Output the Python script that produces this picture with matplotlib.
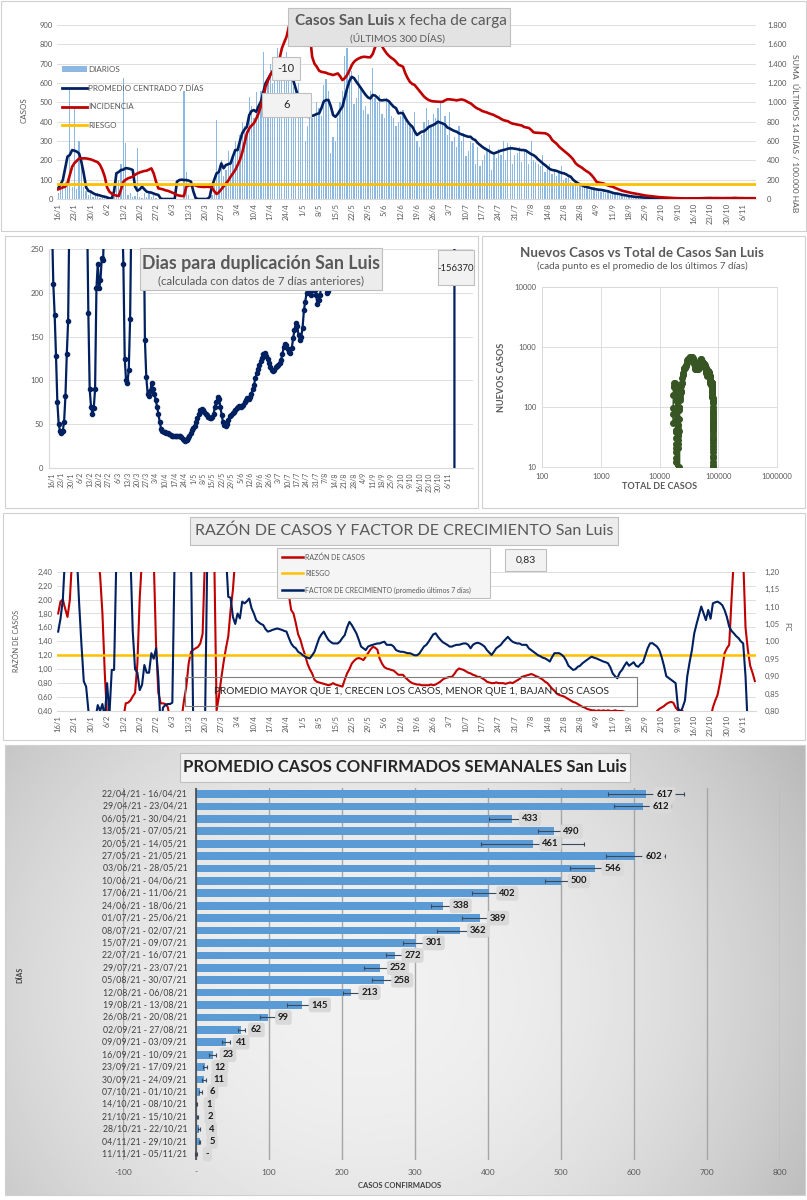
import numpy as np
import matplotlib
matplotlib.use('Agg')
import matplotlib.pyplot as plt
from matplotlib.patches import Rectangle
from matplotlib.lines import Line2D
from matplotlib.ticker import FuncFormatter
from datetime import date, timedelta

plt.rcParams['font.family'] = ['Lato', 'DejaVu Sans']

nan = float('nan')

# ---------------- datos ----------------
FECHA_INICIO = date(2021, 1, 16)

# casos diarios (una fila por semana)
DIARIOS = [
    30, 60, 70, 90, 100, 570, 60,
    470, 50, 300, 180, 60, 40, 20,
    30, 10, 20, 30, 5, 20, 10,
    5, 0, 0, 10, 120, 100, 180,
    625, 290, 20, 30, 10, 15, 265,
    10, 5, 30, 10, 40, 10, 20,
    5, 0, 0, 0, 0, 0, 0,
    0, 0, 0, 0, 0, 560, 140,
    20, 0, 0, 0, 0, 0, 0,
    0, 0, 0, 20, 80, 410, 150,
    200, 120, 150, 250, 180, 230, 300,
    270, 330, 400, 380, 350, 525, 480,
    420, 555, 470, 560, 760, 520, 620,
    700, 600, 650, 780, 640, 720, 690,
    760, 680, 620, 580, 560, 600, 430,
    420, 300, 380, 520, 420, 440, 500,
    470, 430, 590, 620, 560, 240, 320,
    300, 420, 500, 560, 740, 780, 680,
    660, 490, 520, 640, 580, 460, 480,
    440, 560, 680, 520, 500, 540, 440,
    420, 520, 500, 430, 420, 380, 400,
    430, 460, 420, 390, 380, 350, 450,
    300, 270, 330, 400, 470, 410, 380,
    440, 420, 470, 500, 400, 430, 330,
    450, 300, 320, 270, 380, 300, 340,
    220, 250, 300, 290, 180, 270, 170,
    200, 230, 260, 280, 150, 240, 210,
    260, 230, 300, 200, 290, 280, 180,
    230, 240, 270, 190, 250, 260, 180,
    300, 200, 190, 180, 170, 230, 140,
    160, 180, 130, 150, 120, 140, 170,
    100, 110, 120, 90, 80, 70, 65,
    80, 60, 70, 55, 45, 50, 60,
    40, 45, 35, 50, 30, 40, 25,
    30, 25, 20, 18, 22, 15, 12,
    14, 10, 12, 8, 9, 6, 7,
    5, 6, 4, 5, 3, 4, 3,
    2, 3, 2, 1, 2, 1, 1,
    0, 1, 1, 2, 1, 2, 3,
    2, 3, 4, 5, 6, 4, 5,
    6, 5, 4, 3, 4, 3, 5,
    4, 5, 6, 4, 3, 5, 4,
    3, 2, 3, 2, 1, 2,
]

PROMEDIO_7D = [
    55, 75, 98, 160, 219, 228, 253,
    250, 245, 235, 190, 130, 60, 42,
    38, 30, 24, 21, 18, 14, 12,
    8, 4, 3, 40, 133, 140, 150,
    152, 160, 158, 155, 150, 64, 43,
    50, 64, 50, 38, 35, 33, 28,
    24, 21, 2, 0, 0, 0, 0,
    0, 0, 90, 98, 100, 98, 98,
    95, 90, 40, 5, 0, 0, 0,
    0, 0, 10, 64, 100, 133, 140,
    184, 159, 176, 180, 184, 220, 253,
    253, 300, 340, 360, 374, 434, 455,
    460, 451, 480, 503, 550, 598, 620,
    641, 660, 675, 685, 690, 685, 680,
    670, 655, 641, 610, 570, 529, 480,
    460, 440, 425, 425, 430, 434, 440,
    443, 470, 505, 512, 512, 480, 434,
    425, 440, 460, 477, 525, 572, 610,
    632, 625, 606, 590, 572, 555, 538,
    525, 520, 538, 535, 525, 512, 510,
    512, 512, 505, 490, 477, 470, 443,
    445, 443, 420, 400, 385, 374, 350,
    331, 340, 348, 350, 360, 372, 378,
    383, 390, 400, 395, 391, 385, 370,
    365, 358, 352, 348, 340, 335, 330,
    326, 322, 322, 310, 305, 290, 280,
    270, 262, 255, 248, 240, 236, 240,
    245, 250, 253, 256, 260, 262, 262,
    260, 258, 255, 253, 253, 248, 240,
    232, 227, 218, 205, 195, 184, 175,
    165, 155, 150, 148, 145, 140, 135,
    133, 128, 120, 115, 100, 90, 82,
    75, 70, 64, 62, 58, 55, 52,
    50, 48, 47, 45, 42, 40, 36,
    32, 29, 28, 25, 22, 20, 18,
    15, 14, 12, 11, 10, 9, 8,
    7, 7, 6, 6, 5, 5, 4,
    4, 3, 3, 3, 2, 2, 2,
    2, 1, 1, 1, 1, 2, 2,
    2, 3, 3, 4, 4, 5, 5,
    5, 4, 4, 4, 3, 3, 3,
    4, 4, 4, 5, 5, 4, 4,
    4, 3, 3, 3, 2, 2,
]

# suma ultimos 14 dias / 100.000 hab
INCIDENCIA = [
    100, 110, 120, 127, 162, 250, 334,
    372, 395, 420, 420, 420, 420, 415,
    410, 400, 390, 380, 351, 300, 231,
    120, 76, 55, 41, 35, 31, 100,
    179, 200, 214, 222, 231, 250, 265,
    275, 283, 290, 293, 305, 317, 265,
    180, 110, 105, 100, 90, 85, 76,
    65, 55, 41, 35, 31, 31, 127,
    140, 145, 145, 140, 130, 127, 125,
    125, 127, 125, 120, 80, 52, 70,
    100, 130, 160, 190, 230, 265, 300,
    350, 403, 480, 580, 679, 730, 760,
    783, 830, 886, 960, 1041, 1161, 1220,
    1282, 1320, 1350, 1368, 1450, 1558, 1620,
    1678, 1782, 1850, 1900, 1950, 1950, 1900,
    1850, 1820, 1780, 1713, 1471, 1400, 1368,
    1327, 1315, 1310, 1306, 1295, 1290, 1282,
    1290, 1299, 1270, 1230, 1250, 1282, 1330,
    1385, 1420, 1440, 1454, 1465, 1471, 1470,
    1466, 1466, 1500, 1568, 1616, 1620, 1580,
    1540, 1506, 1480, 1460, 1444, 1420, 1390,
    1380, 1368, 1300, 1250, 1210, 1190, 1179,
    1150, 1120, 1090, 1060, 1040, 1024, 1015,
    1010, 1008, 1006, 1005, 1006, 1020, 1031,
    1031, 1028, 1025, 1020, 1025, 1030, 1025,
    1015, 1000, 990, 970, 950, 935, 925,
    910, 903, 895, 885, 877, 869, 855,
    845, 830, 817, 810, 805, 790, 780,
    775, 770, 766, 760, 745, 740, 735,
    715, 690, 686, 685, 683, 681, 680,
    670, 650, 610, 590, 570, 541, 520,
    500, 480, 460, 437, 410, 372, 350,
    335, 320, 300, 285, 269, 245, 215,
    179, 170, 165, 162, 150, 140, 132,
    127, 115, 105, 95, 86, 80, 73,
    67, 63, 59, 55, 50, 45, 40,
    36, 33, 31, 28, 25, 22, 19,
    17, 16, 15, 13, 12, 10, 9,
    8, 7, 7, 6, 6, 5, 5,
    5, 5, 5, 6, 6, 7, 7,
    8, 8, 9, 9, 9, 10, 10,
    10, 10, 9, 9, 9, 9, 9,
    9, 8, 8, 8, 8, 8,
]
RIESGO_INCIDENCIA = 150

# dias para duplicacion (nan = fuera de escala, no legible)
DUPLICACION = (
    [280, 210, 175, 128, 75, 50, 42, 40, 42, 53, 82, 130, 168]
    + [300] + [nan] * 12 + [300]
    + [177, 90, 70, 62, 68, 90, 205, 233, 205, 215, 240, 238]
    + [300] + [nan] * 12 + [300]
    + [233, 125, 100, 97, 112, 170]
    + [300] + [nan] * 8 + [300]
    + [146, 104, 85, 82, 88, 97, 90,
       85, 78, 70, 62, 52, 45, 42,
       41, 41, 40, 40, 39, 38, 37,
       36, 36, 37, 37, 37, 36, 35,
       33, 32, 31, 32, 34, 37, 40,
       43, 46, 48, 52, 57, 62, 66,
       67, 66, 64, 62, 60, 58, 57,
       57, 58, 62, 70, 75, 81, 79,
       70, 60, 52, 49, 48, 50, 55,
       59, 61, 63, 64, 66, 68, 70,
       71, 70, 71, 72, 75, 78, 80,
       79, 81, 85, 90, 95, 103, 108,
       113, 118, 122, 126, 130, 131, 128,
       124, 120, 115, 112, 111, 112, 115,
       117, 118, 120, 123, 130, 138, 141,
       140, 136, 132, 131, 137, 148, 158,
       165, 162, 152, 146, 150, 160, 180,
       190, 200, 207, 205, 197, 203, 210,
       203, 198, 187, 192, 198, 210, 220,
       212, 205, 200, 202, 210, 240]
    + [300] + [nan] * 89
    + [400000, -156370]
)

RAZON_CASOS = (
    [1.80, 1.97, 2.00, 1.87, 1.75, 1.99, 2.60]
    + [nan] * 7
    + [nan, nan, nan, 2.60, 2.35, 1.80, 0.95]
    + [0.30, nan, nan, nan, nan, nan, nan]
    + [0.30, 0.51, 0.52, 0.55, 0.61, 0.66, 1.08]
    + [2.02, 2.60, nan, nan, nan, nan, 2.60]
    + [1.37, 0.66, 0.51, 0.51, 0.50, 0.46, 0.30]
    + [nan, nan, nan, nan, 0.30, 0.55, 0.75]
    + [1.08, 1.25, 1.28, 1.30, 1.32, 1.37, 1.51]
    + [2.60, nan, nan, nan, 2.60, 0.41, 0.61]
    + [0.87, 1.10, 1.30, 1.47, 1.85, 2.14, 2.60]
    + [nan] * 21
    + [2.60, 2.07, 1.85, 1.80, 1.66, 1.50, 1.42]
    + [1.30, 1.20, 1.08, 1.00, 0.94, 0.85, 0.82]
    + [0.81, 0.80, 0.79, 0.78, 0.77, 0.78, 0.80]
    + [0.78, 0.77, 0.76, 0.75, 0.85, 0.94, 1.00]
    + [1.08, 1.12, 1.15, 1.16, 1.15, 1.13, 1.18]
    + [1.23, 1.28, 1.32, 1.31, 1.28, 1.15, 1.08]
    + [1.03, 1.01, 1.00, 0.99, 0.98, 0.95, 0.92]
    + [0.92, 0.92, 0.88, 0.85, 0.82, 0.80, 0.79]
    + [0.78, 0.78, 0.77, 0.77, 0.77, 0.77, 0.78]
    + [0.77, 0.78, 0.80, 0.82, 0.85, 0.87, 0.88]
    + [0.89, 0.89, 0.93, 0.98, 1.01, 1.00, 0.99]
    + [0.97, 0.95, 0.94, 0.92, 0.91, 0.89, 0.89]
    + [0.87, 0.85, 0.82, 0.81, 0.80, 0.80, 0.81]
    + [0.80, 0.80, 0.80, 0.79, 0.80, 0.81, 0.80]
    + [0.82, 0.84, 0.86, 0.89, 0.90, 0.91, 0.92]
    + [0.93, 0.92, 0.90, 0.89, 0.87, 0.85, 0.82]
    + [0.80, 0.76, 0.72, 0.69, 0.65, 0.63, 0.62]
    + [0.61, 0.59, 0.57, 0.55, 0.53, 0.52, 0.50]
    + [0.48, 0.46, 0.45, 0.43, 0.42, 0.41, 0.41]
    + [0.40, 0.41, 0.40, 0.41, 0.40, 0.41, 0.40]
    + [0.40, 0.41, 0.40, 0.40, 0.40, 0.39, 0.38]
    + [0.35, 0.30, nan, nan, nan, nan, nan]
    + [nan, nan, nan, nan, 0.30, 0.40, 0.43]
    + [0.45, 0.47, 0.50, 0.52, 0.53, 0.52, 0.45]
    + [0.41, 0.41, 0.40, 0.35, 0.30, nan, nan]
    + [nan] * 7
    + [0.30, 0.45, 0.55, 0.63, 0.80, 1.00, 1.23]
    + [1.30, 1.35, 2.00, 2.60, nan, nan, nan]
    + [2.60, 1.60, 1.28, 1.05, 0.95, 0.83]
)
RIESGO_RAZON = 1.20

FACTOR_CRECIMIENTO = (
    [1.028, 1.065, 1.119, 1.25, nan, nan, nan]
    + [nan, 1.25, 1.109, 0.99, 0.885, 0.87, 0.80]
    + [0.78, 0.75, 0.78, 0.817, 0.80, 0.82, 0.78]
    + [0.88, 0.79, 0.918, 0.918, 1.25, nan, nan]
    + [nan, nan, nan, 1.25, 1.03, 0.92, 0.91]
    + [0.86, 0.875, 0.932, 0.91, 0.91, 0.966, 0.95]
    + [0.98, 0.894, 0.75, 0.81, 0.817, 0.82, 0.82]
    + [0.824, 1.25, nan, nan, nan, nan, nan]
    + [nan, 1.25, 0.75, nan, nan, nan, nan]
    + [0.75, 1.25, nan, nan, nan, nan, nan]
    + [nan, nan, 1.25, 1.128, 1.125, 1.07, 1.05]
    + [1.08, 1.066, 1.114, 1.109, 1.115, 1.123, 1.095]
    + [1.08, 1.061, 1.055, 1.05, 1.047, 1.035, 1.028]
    + [1.03, 1.033, 1.035, 1.037, 1.035, 1.033, 1.03]
    + [1.028, 1.01, 0.994, 0.985, 0.98, 0.97, 0.966]
    + [0.96, 0.956, 0.953, 0.951, 0.96, 0.97, 0.99]
    + [1.009, 1.02, 1.028, 1.015, 1.004, 0.998, 0.994]
    + [0.994, 0.994, 1.0, 1.01, 1.018, 1.04, 1.056]
    + [1.047, 1.035, 1.023, 1.005, 0.985, 0.98, 0.975]
    + [0.985, 0.988, 0.99, 0.992, 0.994, 0.994, 0.997]
    + [0.999, 0.99, 0.99, 0.99, 0.985, 0.975, 0.972]
    + [0.97, 0.97, 0.968, 0.966, 0.966, 0.963, 0.96]
    + [0.96, 0.965, 0.975, 0.985, 0.99, 0.999, 1.01]
    + [1.02, 1.023, 1.013, 1.005, 0.998, 0.994, 0.99]
    + [0.985, 0.985, 0.988, 0.99, 0.99, 0.992, 0.994]
    + [0.994, 0.99, 0.98, 0.99, 0.994, 0.996, 0.994]
    + [0.99, 0.985, 0.975, 0.968, 0.961, 0.97, 0.98]
    + [0.985, 0.99, 0.999, 1.006, 1.013, 1.005, 0.999]
    + [0.996, 0.994, 0.994, 0.99, 0.99, 0.99, 0.98]
    + [0.975, 0.97, 0.965, 0.96, 0.957, 0.953, 0.951]
    + [0.947, 0.942, 0.955, 0.966, 0.966, 0.966, 0.962]
    + [0.956, 0.945, 0.93, 0.924, 0.918, 0.92, 0.927]
    + [0.93, 0.937, 0.942, 0.947, 0.952, 0.956, 0.953]
    + [0.951, 0.948, 0.945, 0.942, 0.94, 0.937, 0.925]
    + [0.908, 0.90, 0.894, 0.91, 0.918, 0.93, 0.94]
    + [0.93, 0.935, 0.94, 0.93, 0.927, 0.935, 0.94]
    + [0.96, 0.98, 0.994, 0.995, 0.99, 0.985, 0.975]
    + [0.955, 0.93, 0.90, 0.895, 0.89, 0.885, 0.88]
    + [0.81, 0.795, 0.81, 0.83, 0.90, 0.94, 0.975]
    + [1.023, 1.05, 1.075, 1.10, 1.08, 1.061, 1.09]
    + [1.065, 1.109, 1.112, 1.114, 1.11, 1.104, 1.09]
    + [1.07, 1.042, 1.03, 1.023, 1.015, 1.009, 1.0]
    + [0.994, 0.90, 0.75, nan, nan, nan]
)

TOTAL_INICIAL = 17000

SEMANAS = [
    '22/04/21 - 16/04/21', '29/04/21 - 23/04/21', '06/05/21 - 30/04/21',
    '13/05/21 - 07/05/21', '20/05/21 - 14/05/21', '27/05/21 - 21/05/21',
    '03/06/21 - 28/05/21', '10/06/21 - 04/06/21', '17/06/21 - 11/06/21',
    '24/06/21 - 18/06/21', '01/07/21 - 25/06/21', '08/07/21 - 02/07/21',
    '15/07/21 - 09/07/21', '22/07/21 - 16/07/21', '29/07/21 - 23/07/21',
    '05/08/21 - 30/07/21', '12/08/21 - 06/08/21', '19/08/21 - 13/08/21',
    '26/08/21 - 20/08/21', '02/09/21 - 27/08/21', '09/09/21 - 03/09/21',
    '16/09/21 - 10/09/21', '23/09/21 - 17/09/21', '30/09/21 - 24/09/21',
    '07/10/21 - 01/10/21', '14/10/21 - 08/10/21', '21/10/21 - 15/10/21',
    '28/10/21 - 22/10/21', '04/11/21 - 29/10/21', '11/11/21 - 05/11/21',
]
PROMEDIO_SEMANAL = [617, 612, 433, 490, 461, 602, 546, 500, 402, 338,
                    389, 362, 301, 272, 252, 258, 213, 145, 99, 62,
                    41, 23, 12, 11, 6, 1, 2, 4, 5, 0]
DESVIO_SEMANAL = [52, 39, 31, 22, 71, 40, 34, 22, 24, 16,
                  25, 32, 17, 12, 22, 17, 12, 20, 11, 5,
                  5, 5, 3, 3, 2, 1, 1, 1.5, 1, 1.5]

# ---------------- estilo ----------------
W, H = 807, 1200
AZUL = '#002060'
ROJO = '#c00000'
AMARILLO = '#ffc000'
BARRA = '#8db8e2'
VERDE = '#375623'
GRIS = '#595959'
GRID = '#d9d9d9'


def rect(x0, y0, x1, y1):
    # pixeles (y desde arriba) -> fraccion de figura
    return [x0 / W, 1 - y1 / H, (x1 - x0) / W, (y1 - y0) / H]


def caja(x0, y0, x1, y1, fc, ec, lw=0.8):
    fig.patches.append(Rectangle((x0 / W, 1 - y1 / H), (x1 - x0) / W, (y1 - y0) / H,
                                 transform=fig.transFigure, fc=fc, ec=ec, lw=lw, zorder=2))


def texto(x, y, s, **kw):
    kw.setdefault('ha', 'center')
    kw.setdefault('va', 'center')
    kw.setdefault('color', GRIS)
    fig.text(x / W, 1 - y / H, s, zorder=3, **kw)


def sin_bordes(ax, abajo=True):
    for s in ax.spines.values():
        s.set_visible(False)
    if abajo:
        ax.spines['bottom'].set_visible(True)
        ax.spines['bottom'].set_color(GRID)


coma = FuncFormatter(lambda v, p: f"{v:.2f}".replace('.', ','))

fig = plt.figure(figsize=(W / 100, H / 100), dpi=100)

dias = np.arange(len(DIARIOS))
fechas = [FECHA_INICIO + timedelta(days=int(d)) for d in dias]
pos_ticks = dias[::7]
lab_ticks = [f"{fechas[d].day}/{fechas[d].month}" for d in pos_ticks]

# ---------------- panel 1: casos por fecha de carga ----------------
ax1 = fig.add_axes(rect(57, 25, 756, 199))
ax1.bar(dias, DIARIOS, width=0.55, color=BARRA, zorder=2)
ax1.plot(dias, PROMEDIO_7D, color=AZUL, lw=1.9, zorder=3)
ax1.set_xlim(-0.5, len(dias) - 0.5)
ax1.set_ylim(0, 900)
ax1.set_yticks(range(0, 901, 100))
ax1.set_xticks(pos_ticks)
ax1.set_xticklabels(lab_ticks, rotation=90)
ax1.grid(axis='y', color=GRID, lw=0.6)
ax1.set_axisbelow(True)
ax1.tick_params(length=0, labelsize=5.5, labelcolor=GRIS, pad=3)
sin_bordes(ax1)

ax2 = ax1.twinx()
ax2.plot(dias, INCIDENCIA, color=ROJO, lw=1.9)
ax2.axhline(RIESGO_INCIDENCIA, color=AMARILLO, lw=2)
ax2.set_ylim(0, 1800)
ax2.set_yticks(range(0, 1801, 200))
ax2.yaxis.set_major_formatter(FuncFormatter(lambda v, p: f"{v:,.0f}".replace(',', '.')))
ax2.tick_params(length=0, labelsize=5.5, labelcolor=GRIS, pad=8)
sin_bordes(ax2, abajo=False)

handles = [Rectangle((0, 0), 1, 1, fc=BARRA), Line2D([], [], color=AZUL, lw=2),
           Line2D([], [], color=ROJO, lw=2), Line2D([], [], color=AMARILLO, lw=2)]
leg = ax2.legend(handles, ['DIARIOS', 'PROMEDIO CENTRADO 7 DÍAS', 'INCIDENCIA', 'RIESGO'],
                 loc='upper left', bbox_to_anchor=(62 / W, 1 - 66 / H), bbox_transform=fig.transFigure,
                 frameon=False, fontsize=5.8, labelspacing=1.45, handlelength=3.1,
                 handletextpad=0.15, borderpad=0, borderaxespad=0)
for t in leg.get_texts():
    t.set_color(GRIS)

texto(24, 110, 'CASOS', rotation=90, fontsize=5.8)
texto(795, 133, 'SUMA  ÚLTIMOS 14 DÍAS / 100.000 HAB', rotation=270, fontsize=6.1)

caja(288, 8, 510, 46, '#e3e3e3', '#bfbfbf')
texto(394, 21, 'Casos San Luis', ha='right', fontsize=11, fontweight='bold')
texto(398, 21, 'x fecha de carga', ha='left', fontsize=11)
texto(397, 38, '(ÚLTIMOS 300 DÍAS)', fontsize=7.3)

caja(272, 57, 300, 80, '#f2f2f2', '#bfbfbf')
texto(286, 68.5, '-10', fontsize=8, color='#262626')
caja(262, 93, 311, 117, '#f2f2f2', '#bfbfbf')
texto(286.5, 105, '6', fontsize=8, color='#262626')

# ---------------- panel 2: dias para duplicacion ----------------
axd = fig.add_axes(rect(49, 249, 473, 468))
axd.plot(dias, DUPLICACION, color=AZUL, lw=1.6, marker='o', ms=3, zorder=3)
axd.set_xlim(-2.2, 312.5)
axd.set_ylim(0, 250)
axd.set_yticks(range(0, 251, 50))
axd.set_xticks(pos_ticks)
axd.set_xticklabels(lab_ticks, rotation=90)
axd.grid(axis='y', color=GRID, lw=0.6)
axd.set_axisbelow(True)
axd.tick_params(axis='y', length=0, labelsize=5.5, labelcolor=GRIS, pad=4)
axd.tick_params(axis='x', length=0, labelsize=5, labelcolor=GRIS, pad=3)
sin_bordes(axd)
axd.spines['left'].set_visible(True)
axd.spines['left'].set_color(GRID)

caja(140, 248, 382, 290, '#ececec', '#bfbfbf')
texto(261, 263, 'Dias para duplicación San Luis', fontsize=12.8, fontweight='bold')
texto(261, 281, '(calculada con datos de 7 días anteriores)', fontsize=8.3)
caja(438, 250, 474, 285, '#f2f2f2', '#bfbfbf')
texto(456, 268, '-156370', fontsize=6.8, color='#262626')

# ---------------- panel 3: nuevos vs total ----------------
total = TOTAL_INICIAL + np.cumsum(DIARIOS)
axs = fig.add_axes(rect(542, 287, 777, 467))
axs.set_xscale('log')
axs.set_yscale('log')
axs.plot(total, PROMEDIO_7D, color=VERDE, lw=1.2, marker='o', ms=4, zorder=3)
axs.set_xlim(100, 1e6)
axs.set_ylim(10, 1e4)
axs.set_xticks([1e2, 1e3, 1e4, 1e5, 1e6])
axs.set_yticks([1e1, 1e2, 1e3, 1e4])
axs.minorticks_off()
entero = FuncFormatter(lambda v, p: f"{int(round(v))}")
axs.xaxis.set_major_formatter(entero)
axs.yaxis.set_major_formatter(entero)
axs.grid(color=GRID, lw=0.6)
axs.set_axisbelow(True)
axs.tick_params(length=0, labelsize=5.5, labelcolor=GRIS, pad=4)
for s in axs.spines.values():
    s.set_color(GRID)
    s.set_linewidth(0.6)

texto(642, 253, 'Nuevos Casos vs Total de Casos San Luis', fontsize=9.6, fontweight='bold')
texto(642, 266, '(cada punto es el promedio de los últimos 7 días)', fontsize=7.1)
texto(501, 377, 'NUEVOS CASOS', rotation=90, fontsize=6.5, fontweight='bold')
texto(660, 487, 'TOTAL DE CASOS', fontsize=6.5, fontweight='bold')

# ---------------- panel 4: razon de casos y factor de crecimiento ----------------
axr = fig.add_axes(rect(57, 571.7, 756, 711))
axr.plot(dias, RAZON_CASOS, color=ROJO, lw=1.5, zorder=3)
axr.axhline(RIESGO_RAZON, color=AMARILLO, lw=1.8, zorder=4)
axr.set_xlim(-0.5, len(dias) - 0.5)
axr.set_ylim(0.4, 2.4)
axr.set_yticks(np.arange(0.4, 2.41, 0.2))
axr.yaxis.set_major_formatter(coma)
axr.set_xticks(pos_ticks)
axr.set_xticklabels(lab_ticks, rotation=90)
axr.grid(axis='y', color=GRID, lw=0.6)
axr.set_axisbelow(True)
axr.tick_params(length=0, labelsize=5.5, labelcolor=GRIS, pad=3)
sin_bordes(axr)

axf = axr.twinx()
axf.plot(dias, FACTOR_CRECIMIENTO, color=AZUL, lw=1.5)
axf.set_ylim(0.8, 1.2)
axf.set_yticks(np.arange(0.8, 1.201, 0.05))
axf.yaxis.set_major_formatter(coma)
axf.tick_params(length=0, labelsize=5.5, labelcolor=GRIS, pad=6)
sin_bordes(axf, abajo=False)

texto(16, 641, 'RAZÓN DE CASOS', rotation=90, fontsize=5.2)
texto(787, 627, 'FC', rotation=270, fontsize=5.5)

caja(190, 517, 618, 545, '#ececec', '#bfbfbf')
texto(404, 531, 'RAZÓN DE CASOS Y FACTOR DE CRECIMIENTO San Luis', fontsize=11.5)

caja(277, 548, 490, 598, '#f5f5f5', '#bfbfbf')
for yy, col, lab in [(557, ROJO, 'RAZÓN DE CASOS'), (573, AMARILLO, 'RIESGO'),
                     (590, AZUL, 'FACTOR DE CRECIMIENTO (promedio últimos 7 días)')]:
    fig.add_artist(Line2D([282 / W, 303 / W], [1 - yy / H, 1 - yy / H], transform=fig.transFigure,
                          color=col, lw=1.8, zorder=3))
    texto(305, yy, lab, ha='left', fontsize=5)

caja(505, 549, 546, 571, '#f2f2f2', '#bfbfbf')
texto(525.5, 560, '0,83', fontsize=7.5, color='#262626')

caja(185, 677, 637, 706, 'none', '#7f7f7f')
texto(411, 691.5, 'PROMEDIO MAYOR QUE 1, CRECEN LOS CASOS, MENOR QUE 1, BAJAN LOS CASOS',
      fontsize=7.3, color='#262626')

# ---------------- panel 5: promedio semanal ----------------
bg = fig.add_axes(rect(5, 745, 805, 1195))
gy, gx = np.mgrid[0:1:200j, 0:1:400j]
fondo = 0.945 - 0.16 * ((gx - 0.45) ** 2 / 0.3 + (gy - 0.55) ** 2 / 0.8)
bg.imshow(fondo, cmap='gray', vmin=0, vmax=1, extent=(0, 1, 0, 1), aspect='auto')
bg.axis('off')
bg.set_zorder(-1)

axb = fig.add_axes(rect(123, 787.8, 780, 1160.2))
axb.set_facecolor('none')
yb = np.arange(len(SEMANAS))
axb.barh(yb, PROMEDIO_SEMANAL, height=0.62, color='#5b9bd5', xerr=DESVIO_SEMANAL,
         error_kw=dict(ecolor='#3a4a5e', elinewidth=0.8, capsize=1.6, capthick=0.8), zorder=3)
axb.set_xlim(-100, 800)
axb.set_ylim(len(yb) - 0.5, -0.5)
xt = list(range(-100, 801, 100))
axb.set_xticks(xt)
axb.set_xticklabels(['-' if v == 0 else str(v) for v in xt])
axb.set_yticks([])
axb.grid(axis='x', color='#a6a6a6', lw=1.0)
axb.set_axisbelow(True)
axb.axvline(0, color='#404040', lw=1.1, zorder=4)
for s in axb.spines.values():
    s.set_visible(False)
axb.tick_params(axis='x', length=0, labelsize=6, labelcolor=GRIS, pad=6)
for i, s in enumerate(SEMANAS):
    axb.text(-12, i, s, ha='right', va='center', fontsize=6.3, color='#404040', zorder=5)
for i, v in enumerate(PROMEDIO_SEMANAL):
    axb.annotate('-' if v == 0 else str(v), (v, i), xytext=(7, 0), textcoords='offset points',
                 ha='left', va='center', fontsize=6.8, fontweight='bold', color='#1a1a1a',
                 bbox=dict(boxstyle='round,pad=0.3', fc='#d9d9d9', ec='none'), zorder=6)

texto(400, 1186, 'CASOS CONFIRMADOS', fontsize=5.5, fontweight='bold', color='#404040')
texto(20, 975, 'DÍAS', rotation=90, fontsize=5, fontweight='bold', color='#404040')

caja(180, 753, 630, 782, '#f2f2f2', '#bfbfbf')
texto(405, 767.5, 'PROMEDIO CASOS CONFIRMADOS SEMANALES San Luis', fontsize=12,
      fontweight='bold', color='#262626')

# bordes de los graficos
caja(1, 1, 806, 231, 'none', '#d0d0d0')
caja(5, 236, 478, 508, 'none', '#d0d0d0')
caja(482, 236, 805, 508, 'none', '#d0d0d0')
caja(3, 513, 805, 740, 'none', '#d0d0d0')
caja(5, 745, 805, 1195, 'none', '#d0d0d0')

fig.savefig('out.png', dpi=100)
